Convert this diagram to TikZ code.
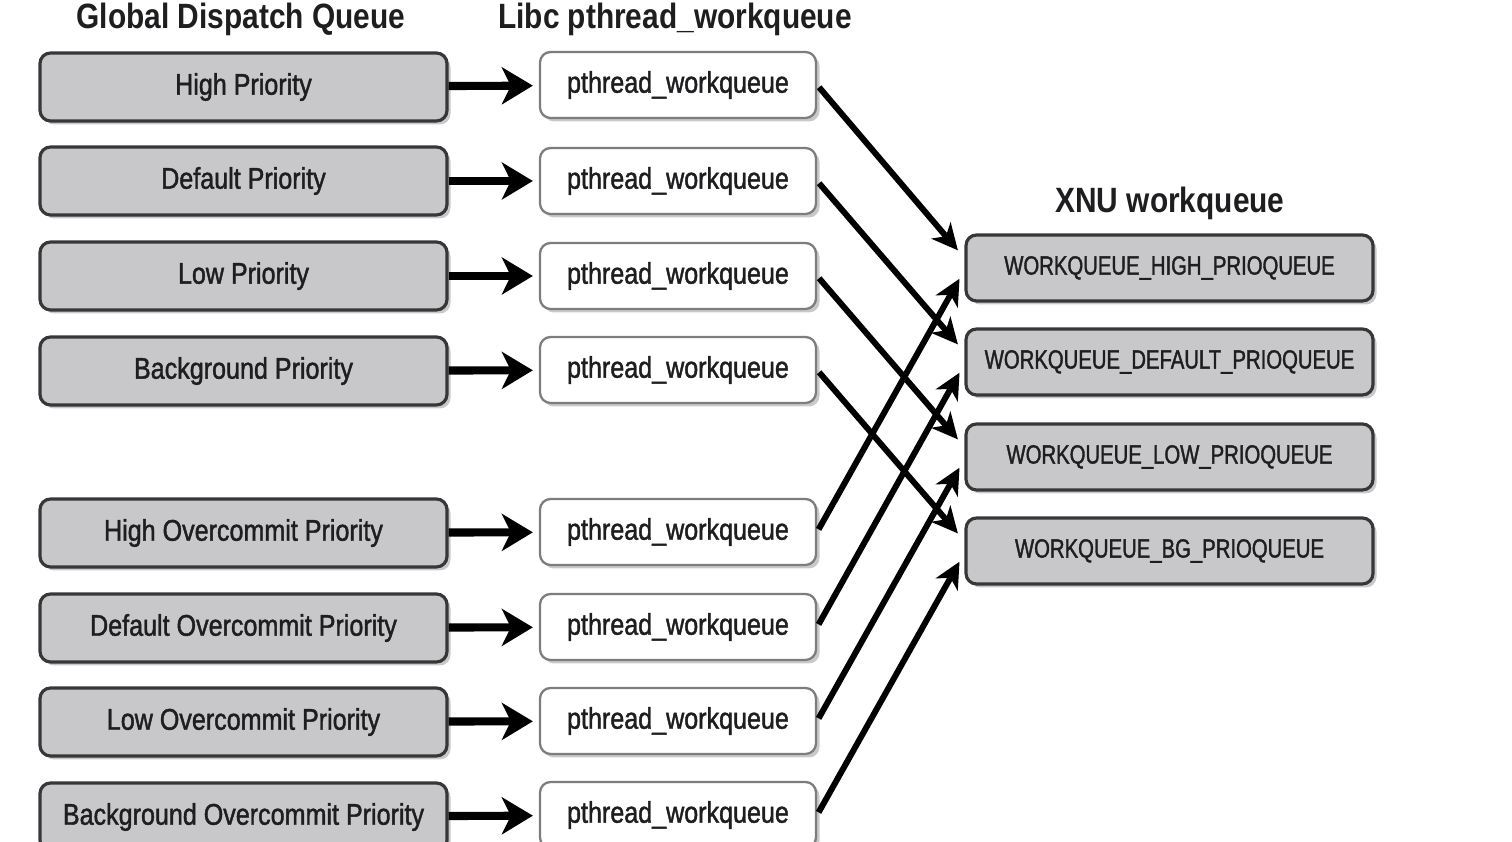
\documentclass[tikz,border=0pt]{standalone}
\usepackage{fontspec}
\setmainfont{Liberation Sans}[FakeStretch=0.85]
\newfontfamily\boxfont{Liberation Sans}[FakeStretch=0.84, FakeBold=1.4]
\newfontfamily\capsfont{Liberation Sans}[FakeStretch=0.77, FakeBold=1.4]
\usetikzlibrary{arrows.meta,shadows}
\definecolor{boxgray}{RGB}{200,200,203}
\definecolor{boxline}{RGB}{55,55,58}
\definecolor{pwline}{RGB}{125,125,128}
\definecolor{txt}{RGB}{30,30,32}
\tikzset{
  shade box/.style={drop shadow={shadow xshift=0.07cm, shadow yshift=-0.07cm, opacity=0.3, fill=black!70}},
  gdbox/.style={shade box, draw=boxline, fill=boxgray, line width=1.8pt, rounded corners=6pt,
    minimum width=8.14cm, minimum height=1.36cm, text=txt, font=\boxfont\fontsize{17}{20}\selectfont},
  pwbox/.style={shade box, draw=pwline, fill=white, line width=1.3pt, rounded corners=6pt,
    minimum width=5.52cm, minimum height=1.32cm, text=txt, font=\boxfont\fontsize{17}{20}\selectfont},
  xnubox/.style={gdbox, minimum height=1.32cm, font=\capsfont\fontsize{15}{18}\selectfont},
  title/.style={text=txt, font=\bfseries\fontsize{20}{24}\selectfont},
  feed/.style={line width=4.6pt, -{Stealth[length=0.62cm, width=0.74cm, inset=0.18cm]}, shorten >=0.12cm},
  map/.style={line width=3.4pt, -{Stealth[length=0.52cm, width=0.5cm, inset=0.15cm]}, shorten >=0.2cm, shorten <=0.06cm}
}
\begin{document}
\begin{tikzpicture}
		\useasboundingbox (0, 0) rectangle (30.24, 16.84);
		% Column titles:
		\node[title] (tgd) at (4.82, 16.46){Global Dispatch Queue};
		\node[title] (tpw) at (13.5, 16.46){Libc pthread\_workqueue};
		\node[title] (txnu) at (23.4, 12.78){XNU workqueue};
		% Global dispatch queues:
		\node[gdbox] (gd1) at (4.87, 15.1){High Priority};
		\node[gdbox] (gd2) at (4.87, 13.22){Default Priority};
		\node[gdbox] (gd3) at (4.87, 11.32){Low Priority};
		\node[gdbox] (gd4) at (4.87, 9.42){Background Priority};
		\node[gdbox] (gd5) at (4.87, 6.18){High Overcommit Priority};
		\node[gdbox] (gd6) at (4.87, 4.28){Default Overcommit Priority};
		\node[gdbox] (gd7) at (4.87, 2.40){Low Overcommit Priority};
		\node[gdbox] (gd8) at (4.87, 0.50){Background Overcommit Priority};
		% pthread workqueues:
		\node[pwbox] (pw1) at (13.56, 15.14){pthread\_workqueue};
		\node[pwbox] (pw2) at (13.56, 13.22){pthread\_workqueue};
		\node[pwbox] (pw3) at (13.56, 11.32){pthread\_workqueue};
		\node[pwbox] (pw4) at (13.56, 9.44){pthread\_workqueue};
		\node[pwbox] (pw5) at (13.56, 6.20){pthread\_workqueue};
		\node[pwbox] (pw6) at (13.56, 4.30){pthread\_workqueue};
		\node[pwbox] (pw7) at (13.56, 2.42){pthread\_workqueue};
		\node[pwbox] (pw8) at (13.56, 0.54){pthread\_workqueue};
		% XNU workqueues:
		\node[xnubox] (xnu1) at (23.39, 11.48){WORKQUEUE\_HIGH\_PRIOQUEUE};
		\node[xnubox] (xnu2) at (23.39, 9.60){WORKQUEUE\_DEFAULT\_PRIOQUEUE};
		\node[xnubox] (xnu3) at (23.39, 7.70){WORKQUEUE\_LOW\_PRIOQUEUE};
		\node[xnubox] (xnu4) at (23.39, 5.82){WORKQUEUE\_BG\_PRIOQUEUE};
		% Arrows:
		\draw[feed] (gd1) -- (pw1);
		\draw[feed] (gd2) -- (pw2);
		\draw[feed] (gd3) -- (pw3);
		\draw[feed] (gd4) -- (pw4);
		\draw[feed] (gd5) -- (pw5);
		\draw[feed] (gd6) -- (pw6);
		\draw[feed] (gd7) -- (pw7);
		\draw[feed] (gd8) -- (pw8);
		\draw[map] (pw1.east) -- ([yshift=0.2cm]xnu1.west);
		\draw[map] (pw2.east) -- ([yshift=0.2cm]xnu2.west);
		\draw[map] (pw3.east) -- ([yshift=0.2cm]xnu3.west);
		\draw[map] (pw4.east) -- ([yshift=0.2cm]xnu4.west);
		\draw[map] (pw5.east) -- ([yshift=-0.04cm]xnu1.west);
		\draw[map] (pw6.east) -- ([yshift=-0.04cm]xnu2.west);
		\draw[map] (pw7.east) -- ([yshift=-0.04cm]xnu3.west);
		\draw[map] (pw8.east) -- ([yshift=-0.04cm]xnu4.west);
	\end{tikzpicture}
\end{document}
